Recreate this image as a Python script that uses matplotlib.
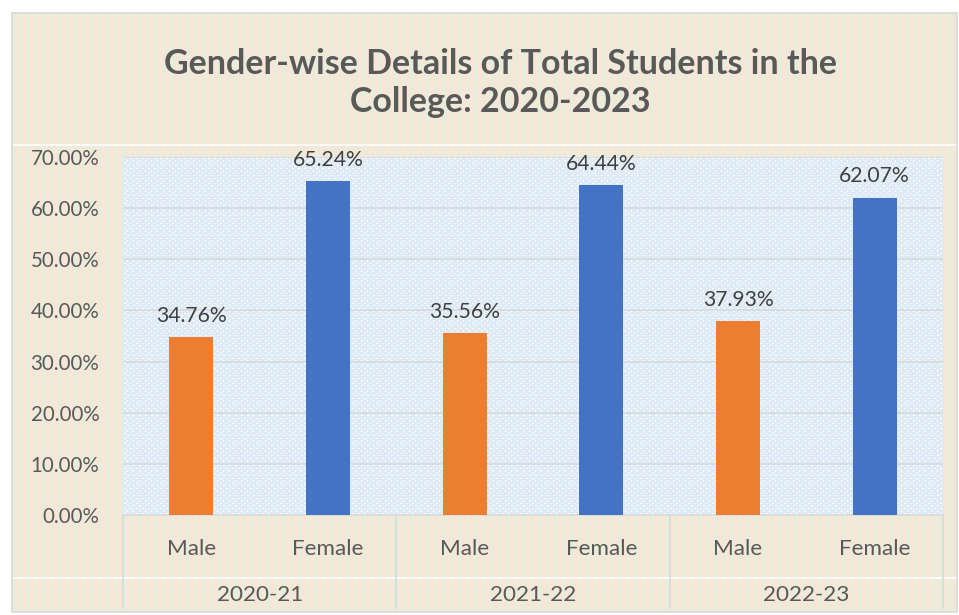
import numpy as np
import matplotlib
matplotlib.use("Agg")
import matplotlib.pyplot as plt
from matplotlib.patches import Rectangle
from matplotlib.lines import Line2D

years = ["2020-21", "2021-22", "2022-23"]
genders = ["Male", "Female"]
male = [34.76, 35.56, 37.93]
female = [65.24, 64.44, 62.07]
yticks = [0, 10, 20, 30, 40, 50, 60, 70]
title = "Gender-wise Details of Total Students in the\nCollege: 2020-2023"

W, H = 959, 615
fig = plt.figure(figsize=(W / 100, H / 100), dpi=100)
plt.rcParams['font.family'] = ['Lato', 'DejaVu Sans']

# figure background with vertical stripes
bg = fig.add_axes([0, 0, 1, 1], zorder=-10)
bg.set_xlim(0, W); bg.set_ylim(H, 0); bg.axis('off')
green = np.array([226, 239, 218]) / 255
peach = np.array([251, 229, 214]) / 255
pat = [0, 0, 1, 0, 1, 1, 0, 1, 0, 0, 1, 1, 1, 0, 0, 1]
cols = np.array([green if pat[i % len(pat)] == 0 else peach for i in range(945)])
img = np.tile(cols[None, :, :], (599, 1, 1))
bg.imshow(img, extent=(12, 957, 612, 13), aspect='auto', interpolation='nearest', zorder=0)
bg.add_patch(Rectangle((12, 13), 945, 599, fill=False, edgecolor='#D9D9D9', lw=1.2, zorder=2))
bg.plot([13, 956], [145, 145], color='white', lw=1.2, zorder=1)
bg.plot([13, 956], [578, 578], color='white', lw=1.2, zorder=1)

# plot area
L, R, T, B = 123, 943, 157, 515
ax = fig.add_axes([L / W, (H - B) / H, (R - L) / W, (B - T) / H])
ax.set_xlim(-0.5, 5.5)
ax.set_ylim(0, 70)
ax.patch.set_alpha(0)

# dotted light-blue texture
tile = np.ones((10, 12, 3)) * (np.array([222, 235, 247]) / 255)
for (r, c) in [(1, 1), (1, 2), (1, 7), (1, 8), (4, 4), (4, 10), (6, 1), (6, 2),
               (6, 7), (8, 4), (8, 5), (8, 10), (8, 11), (3, 4), (3, 10)]:
    tile[r, c] = 1.0
ph, pw = B - T, R - L
tex = np.tile(tile, (ph // 10 + 1, pw // 12 + 1, 1))[:ph, :pw]
ax.imshow(tex, extent=(-0.5, 5.5, 0, 70), aspect='auto', interpolation='nearest', zorder=0)

for v in yticks[1:]:
    ax.axhline(v, color='#D9D9D9', lw=1.2, zorder=1)

x_m = [2 * i for i in range(3)]
x_f = [2 * i + 1 for i in range(3)]
bw = 0.32
bm = ax.bar(x_m, male, width=bw, color='#ED7D31', zorder=3)
bf = ax.bar(x_f, female, width=bw, color='#4472C4', zorder=3)
for bars, vals in ((bm, male), (bf, female)):
    for b, v in zip(bars, vals):
        ax.annotate(f"{v:.2f}%", (b.get_x() + b.get_width() / 2, v), xytext=(0, 8),
                    textcoords='offset points', ha='center', va='bottom',
                    fontsize=15.2, color='#404040')

ax.set_yticks(yticks)
ax.set_yticklabels([f"{v:.2f}%" for v in yticks], fontsize=14.8, color='#595959')
ax.tick_params(axis='y', length=0, pad=17)
ax.set_xticks([])
for s in ['top', 'right', 'left']:
    ax.spines[s].set_visible(False)
ax.spines['bottom'].set_color('#D9D9D9')
ax.spines['bottom'].set_linewidth(1.2)

# category axis (two-level)
trans = ax.get_xaxis_transform()
def fy(py):
    return ((H - py) - (H - B)) / (B - T)
for xv in [-0.5, 1.5, 3.5, 5.5]:
    ax.add_line(Line2D([xv, xv], [0, fy(608)], transform=trans, color='#D9D9D9', lw=1.2, clip_on=False))
for i in range(3):
    for j, g in enumerate(genders):
        ax.text(2 * i + j, fy(549), g, transform=trans, ha='center', va='center',
                fontsize=16.2, color='#595959', clip_on=False)
    ax.text(2 * i + 0.5, fy(595), years[i], transform=trans, ha='center', va='center',
            fontsize=16.2, color='#595959', clip_on=False)

fig.text(500 / W, 1 - 83 / H, title, ha='center', va='center',
         fontsize=24.5, fontweight='bold', color='#595959', linespacing=1.22)

fig.savefig("out.png", dpi=100)
